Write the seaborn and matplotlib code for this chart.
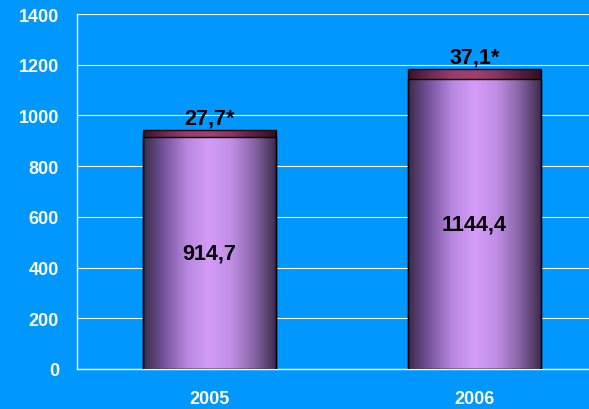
import numpy as np
import pandas as pd
import matplotlib
matplotlib.use("Agg")
import matplotlib.pyplot as plt
from matplotlib.colors import LinearSegmentedColormap
import seaborn as sns

# -------------------
# DATA
# -------------------
years = ['2005', '2006']
base = [914.7, 1144.4]
extra = [27.7, 37.1]
base_labels = ['914,7', '1144,4']
extra_labels = ['27,7*', '37,1*']

totals = [b + e for b, e in zip(base, extra)]
df = pd.DataFrame({'year': years, 'base': base, 'total': totals})

# -------------------
# STYLE
# -------------------
BG = '#0098ff'
sns.set_style('white')
plt.rcParams['font.family'] = ['Liberation Sans', 'DejaVu Sans']
plt.rcParams['font.weight'] = 'bold'

fig = plt.figure(figsize=(5.89, 4.10), dpi=100)
fig.patch.set_facecolor(BG)
ax = fig.add_axes([77 / 589, 40 / 410, 530 / 589, 355 / 410])
ax.set_facecolor(BG)

# stacked bars: total first (top segment), base on top of it
sns.barplot(data=df, x='year', y='total', color='#8a3060', width=0.5,
            edgecolor='black', linewidth=1, ax=ax, zorder=3)
sns.barplot(data=df, x='year', y='base', color='#c890f0', width=0.5,
            edgecolor='black', linewidth=1, ax=ax, zorder=3)

ax.set_xlim(-0.5, 1.5)
ax.set_ylim(0, 1400)
ax.set_autoscale_on(False)

# cylinder-like shading
purple = LinearSegmentedColormap.from_list(
    'purple', ['#3a2a4a', '#7a55a0', '#b888e0', '#d49cf8', '#c08ee6',
               '#8a66a8', '#3e2c4e'])
maroon = LinearSegmentedColormap.from_list(
    'maroon', ['#3a1226', '#6e2a50', '#9a3c6c', '#a0406e', '#8a3460',
               '#5a2040', '#30101e'])
grad = np.linspace(0, 1, 256).reshape(1, -1)

n = len(years)
for i, p in enumerate(ax.patches):
    cmap = maroon if i < n else purple
    x0, y0 = p.get_x(), p.get_y()
    w, h = p.get_width(), p.get_height()
    im = ax.imshow(grad, cmap=cmap, aspect='auto',
                   extent=[x0, x0 + w, y0, y0 + h], zorder=2,
                   interpolation='bilinear')
    im.set_clip_path(p)
    p.set_facecolor('none')
    p.set_zorder(4)

# labels
for i in range(n):
    ax.text(i, base[i] / 2, base_labels[i], ha='center', va='center',
            fontsize=15.5, fontweight='bold', color='black', zorder=5)
    ax.text(i, totals[i] + 8, extra_labels[i], ha='center', va='bottom',
            fontsize=15.5, fontweight='bold', color='black', zorder=5)

# axes, grid, ticks
ax.set_yticks(range(0, 1401, 200))
ax.yaxis.grid(True, color='white', linewidth=0.8)
ax.xaxis.grid(False)
ax.set_axisbelow(True)
for side in ['top', 'right']:
    ax.spines[side].set_visible(False)
for side in ['left', 'bottom']:
    ax.spines[side].set_color('white')
    ax.spines[side].set_linewidth(1)
ax.set_xlabel('')
ax.set_ylabel('')

ax.tick_params(axis='y', colors='white', labelsize=13, length=7,
               width=1, direction='out', pad=6)
ax.tick_params(axis='x', which='major', colors='white', labelsize=13,
               length=0, pad=15)
ax.set_xticks([-0.5, 0.5, 1.5], minor=True)
ax.tick_params(axis='x', which='minor', colors='white', length=7, width=1)
for lbl in ax.get_xticklabels() + ax.get_yticklabels():
    lbl.set_fontweight('bold')

fig.savefig('out.png', dpi=100, facecolor=BG)
